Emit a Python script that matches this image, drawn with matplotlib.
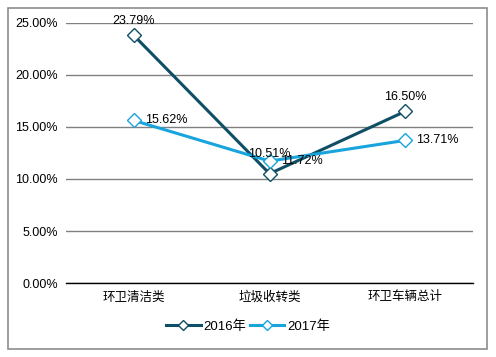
import matplotlib.pyplot as plt
from matplotlib.patches import Rectangle
from matplotlib.ticker import PercentFormatter

plt.rcParams['font.family'] = ['Liberation Sans', 'Noto Sans CJK SC']

categories = ['环卫清洁类', '垃圾收转类', '环卫车辆总计']
values_2016 = [23.79, 10.51, 16.50]
values_2017 = [15.62, 11.72, 13.71]
series_names = ['2016年', '2017年']

color_2016 = '#0e4f66'
color_2017 = '#18a4dc'

fig = plt.figure(figsize=(4.96, 3.57), dpi=100)
ax = fig.add_axes([0.133, 0.207, 0.821, 0.729])

# outer frame
fig.patches.append(Rectangle((8 / 496, 8 / 357), 479 / 496, 341 / 357, transform=fig.transFigure,
                             fill=False, edgecolor='#8c8c8c', linewidth=1.2))

x = range(len(categories))
ax.plot(x, values_2016, color=color_2016, linewidth=2.2, marker='D', markersize=7,
        markerfacecolor='white', markeredgecolor=color_2016, markeredgewidth=1.0,
        label=series_names[0], zorder=3)
ax.plot(x, values_2017, color=color_2017, linewidth=2.2, marker='D', markersize=7,
        markerfacecolor='white', markeredgecolor=color_2017, markeredgewidth=1.0,
        label=series_names[1], zorder=3)

# data labels
ax.annotate(f'{values_2016[0]:.2f}%', (0, values_2016[0]), xytext=(0, 6), textcoords='offset points',
            ha='center', va='bottom', fontsize=9)
ax.annotate(f'{values_2016[1]:.2f}%', (1, values_2016[1]), xytext=(0, 10), textcoords='offset points',
            ha='center', va='bottom', fontsize=9)
ax.annotate(f'{values_2016[2]:.2f}%', (2, values_2016[2]), xytext=(0, 6), textcoords='offset points',
            ha='center', va='bottom', fontsize=9)
for i, v in enumerate(values_2017):
    ax.annotate(f'{v:.2f}%', (i, v), xytext=(8, 0), textcoords='offset points',
                ha='left', va='center', fontsize=9)

ax.set_xlim(-0.5, 2.5)
ax.set_ylim(0, 25)
ax.set_yticks([0, 5, 10, 15, 20, 25])
ax.yaxis.set_major_formatter(PercentFormatter(decimals=2))
ax.set_xticks(list(x))
ax.set_xticklabels(categories)
ax.tick_params(axis='both', length=0, labelsize=9, pad=6)
ax.tick_params(axis='x', pad=6)
ax.grid(axis='y', color='#808080', linewidth=1.0)
ax.set_axisbelow(True)
for side in ['top', 'right', 'left']:
    ax.spines[side].set_visible(False)
ax.spines['bottom'].set_color('#000000')
ax.spines['bottom'].set_linewidth(1.0)

fig.legend(loc='center', bbox_to_anchor=(0.5, 0.085), ncol=2, frameon=False, fontsize=9.5,
           handlelength=2.6, handletextpad=0.2, columnspacing=0.3, markerscale=0.7)

fig.savefig('out.png', dpi=100)
